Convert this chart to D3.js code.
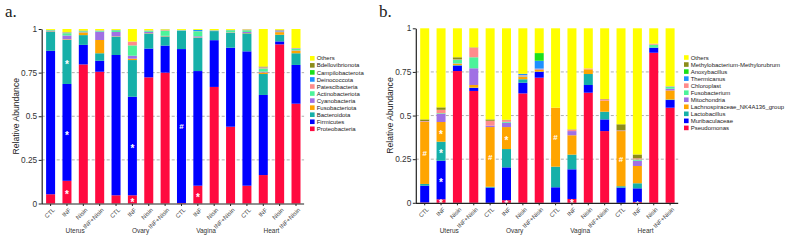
<!DOCTYPE html>
<html>
<head>
<meta charset="utf-8">
<script src="https://cdn.jsdelivr.net/npm/d3@7"></script>
<style>
  body { margin: 0; background: #fff; }
  svg { display: block; font-family: "Liberation Sans", Arial, sans-serif; }
</style>
</head>
<body>
<div id="chart"></div>
<script>
// ---- data ----
const tissues = ["Uterus", "Ovary", "Vagina", "Heart"];
const treatments = ["CTL", "INF", "Nisin", "INF+Nisin"];

// panel a: phylum level, stack order bottom -> top
const phyla = ["Proteobacteria", "Firmicutes", "Bacteroidota", "Fusobacteriota", "Cyanobacteria",
    "Actinobacteriota", "Patescibacteria", "Deinococcota", "Campilobacterota", "Bdellovibrionota", "Others"];
const phylaColors = ["#ff0a3f", "#0000ff", "#16b0a9", "#ffa500", "#a070e4",
    "#4cf39a", "#ff8c8c", "#1e90ff", "#1ae01a", "#8c8c1a", "#ffff00"];
// one row per phylum, 16 samples (Uterus CTL..INF+Nisin, Ovary.., Vagina.., Heart..)
const phylaValues = [
    [0.053, 0.130, 0.797, 0.755, 0.047, 0.047, 0.723, 0.750, 0.003, 0.102, 0.668, 0.440, 0.102, 0.163, 0.912, 0.572],
    [0.822, 0.555, 0.112, 0.063, 0.804, 0.565, 0.165, 0.155, 0.882, 0.657, 0.268, 0.453, 0.770, 0.459, 0.017, 0.222],
    [0.110, 0.253, 0.056, 0.043, 0.105, 0.210, 0.086, 0.052, 0.104, 0.191, 0.052, 0.084, 0.103, 0.120, 0.038, 0.067],
    [0.002, 0.003, 0.015, 0.076, 0.002, 0.008, 0.002, 0.002, 0.000, 0.002, 0.000, 0.002, 0.002, 0.009, 0.015, 0.015],
    [0.002, 0.022, 0.002, 0.048, 0.025, 0.017, 0.008, 0.002, 0.001, 0.006, 0.001, 0.002, 0.006, 0.005, 0.005, 0.002],
    [0.004, 0.013, 0.005, 0.004, 0.010, 0.059, 0.005, 0.030, 0.003, 0.029, 0.002, 0.012, 0.010, 0.018, 0.002, 0.009],
    [0.001, 0.004, 0.001, 0.002, 0.001, 0.021, 0.002, 0.004, 0.001, 0.001, 0.001, 0.001, 0.004, 0.006, 0.003, 0.003],
    [0.001, 0.001, 0.001, 0.001, 0.001, 0.001, 0.001, 0.001, 0.001, 0.007, 0.001, 0.001, 0.001, 0.001, 0.001, 0.001],
    [0.000, 0.001, 0.000, 0.000, 0.000, 0.000, 0.000, 0.000, 0.000, 0.000, 0.000, 0.000, 0.000, 0.000, 0.000, 0.000],
    [0.000, 0.000, 0.002, 0.000, 0.000, 0.000, 0.000, 0.001, 0.000, 0.000, 0.000, 0.000, 0.000, 0.004, 0.003, 0.000],
    [0.005, 0.018, 0.009, 0.008, 0.005, 0.072, 0.008, 0.003, 0.005, 0.005, 0.007, 0.005, 0.002, 0.215, 0.004, 0.109]
];
// significance marks: sample index, segment, symbol
const phylaMarks = [
    [1, "Proteobacteria", "*"], [1, "Firmicutes", "*"], [1, "Bacteroidota", "*"],
    [5, "Proteobacteria", "*"], [5, "Firmicutes", "*"],
    [8, "Firmicutes", "#"], [9, "Proteobacteria", "*"]
];

// panel b: genus level
const genera = ["Pseudomonas", "Muribaculaceae", "Lactobacillus", "Lachnospiraceae_NK4A136_group", "Mitochondria",
    "Fusobacterium", "Chloroplast", "Thermicanus", "Anoxybacillus", "Methylobacterium-Methylorubrum", "Others"];
const generaColors = ["#ff0a3f", "#0000ff", "#16b0a9", "#ffa500", "#a070e4",
    "#4cf39a", "#ff8c8c", "#1e90ff", "#1ae01a", "#8c8c1a", "#ffff00"];
const generaValues = [
    [0.002, 0.020, 0.755, 0.641, 0.000, 0.015, 0.627, 0.717, 0.002, 0.022, 0.631, 0.411, 0.000, 0.005, 0.860, 0.545],
    [0.096, 0.221, 0.031, 0.017, 0.087, 0.188, 0.061, 0.033, 0.087, 0.170, 0.044, 0.067, 0.087, 0.078, 0.029, 0.044],
    [0.010, 0.109, 0.003, 0.002, 0.005, 0.105, 0.020, 0.002, 0.118, 0.084, 0.063, 0.044, 0.008, 0.029, 0.000, 0.003],
    [0.355, 0.113, 0.008, 0.015, 0.342, 0.126, 0.015, 0.012, 0.338, 0.111, 0.027, 0.063, 0.316, 0.099, 0.000, 0.052],
    [0.002, 0.046, 0.002, 0.096, 0.008, 0.025, 0.002, 0.004, 0.000, 0.024, 0.000, 0.000, 0.002, 0.030, 0.000, 0.010],
    [0.000, 0.004, 0.021, 0.063, 0.000, 0.005, 0.003, 0.000, 0.000, 0.000, 0.000, 0.000, 0.000, 0.007, 0.017, 0.012],
    [0.003, 0.020, 0.002, 0.055, 0.028, 0.010, 0.004, 0.001, 0.000, 0.008, 0.005, 0.008, 0.002, 0.007, 0.006, 0.003],
    [0.000, 0.000, 0.000, 0.000, 0.000, 0.000, 0.007, 0.045, 0.000, 0.000, 0.000, 0.000, 0.000, 0.000, 0.000, 0.000],
    [0.000, 0.000, 0.000, 0.000, 0.000, 0.000, 0.000, 0.044, 0.000, 0.000, 0.000, 0.000, 0.000, 0.000, 0.000, 0.000],
    [0.010, 0.014, 0.012, 0.002, 0.008, 0.002, 0.000, 0.000, 0.000, 0.002, 0.000, 0.002, 0.035, 0.022, 0.000, 0.000],
    [0.522, 0.453, 0.166, 0.109, 0.522, 0.524, 0.261, 0.142, 0.455, 0.579, 0.230, 0.405, 0.550, 0.723, 0.088, 0.331]
];
const generaMarks = [
    [0, "Lachnospiraceae_NK4A136_group", "#"],
    [1, "Pseudomonas", "*"], [1, "Muribaculaceae", "*"], [1, "Lactobacillus", "*"], [1, "Lachnospiraceae_NK4A136_group", "*"],
    [4, "Lachnospiraceae_NK4A136_group", "#"],
    [5, "Pseudomonas", "*"], [5, "Lachnospiraceae_NK4A136_group", "*"],
    [8, "Lachnospiraceae_NK4A136_group", "#"], [9, "Pseudomonas", "*"],
    [12, "Lachnospiraceae_NK4A136_group", "#"], [13, "Pseudomonas", "*"]
];

const yTicks = [0, 0.25, 0.5, 0.75, 1];

// ---- drawing ----
const svg = d3.select("#chart").append("svg")
    .attr("width", 785)
    .attr("height", 240);

function drawPanel(cfg) {
    let samples = [];
    tissues.forEach(t => treatments.forEach(tr => samples.push(t + "|" + tr)));

    // rows for d3.stack
    let rows = samples.map((s, i) => {
        let r = {sample: s};
        cfg.keys.forEach((k, j) => r[k] = cfg.values[j][i]);
        return r;
    });
    let series = d3.stack().keys(cfg.keys)(rows);

    let x = d3.scaleBand()
        .domain(samples)
        .range([cfg.axisX + 0.8, cfg.axisX + 0.8 + 16 * 16.35])
        .paddingInner(0.45)
        .paddingOuter(0.22);

    let y = d3.scaleLinear()
        .domain([0, 1])
        .range([cfg.bottom, cfg.top]);

    let color = d3.scaleOrdinal().domain(cfg.keys).range(cfg.colors);

    let g = svg.append("g");
    let xEnd = x.range()[1];

    // dashed grid
    g.selectAll(".grid")
        .data([0.25, 0.5, 0.75])
        .enter().append("line")
        .attr("x1", cfg.axisX)
        .attr("x2", xEnd)
        .attr("y1", d => y(d))
        .attr("y2", d => y(d))
        .attr("stroke", "#9a9a9a")
        .attr("stroke-width", 0.8)
        .attr("stroke-dasharray", "3,2");

    // bars
    g.selectAll(".layer")
        .data(series)
        .enter().append("g")
        .attr("fill", d => color(d.key))
        .selectAll("rect")
        .data(d => d)
        .enter().append("rect")
        .attr("x", d => x(d.data.sample))
        .attr("width", x.bandwidth())
        .attr("y", d => y(d[1]))
        .attr("height", d => Math.max(0, y(d[0]) - y(d[1])));

    // marks (* and #) in the middle of a segment
    g.selectAll(".mark")
        .data(cfg.marks)
        .enter().append("text")
        .attr("x", d => x(samples[d[0]]) + x.bandwidth() / 2)
        .attr("y", d => {
            let s = series[cfg.keys.indexOf(d[1])][d[0]];
            return y((s[0] + s[1]) / 2);
        })
        .attr("dy", d => d[2] == "*" ? "0.62em" : "0.36em")
        .attr("text-anchor", "middle")
        .attr("fill", "#fff")
        .style("font-size", d => d[2] == "*" ? "10px" : "8px")
        .style("font-weight", "bold")
        .text(d => d[2]);

    // y axis
    let yAxis = d3.axisLeft(y)
        .tickValues(yTicks)
        .tickFormat(d => String(d))
        .tickSize(3)
        .tickSizeOuter(0);
    let ya = g.append("g")
        .attr("transform", `translate(${cfg.axisX},0)`)
        .call(yAxis);
    ya.select(".domain").attr("stroke", "#222").attr("stroke-width", 1.2);
    ya.selectAll(".tick line").attr("stroke", "#222");
    ya.selectAll("text")
        .attr("x", -4.5)
        .style("font-size", "8.3px")
        .attr("fill", "#333");

    // x axis
    let xAxis = d3.axisBottom(x)
        .tickSize(2)
        .tickSizeOuter(0)
        .tickFormat(d => d.split("|")[1]);
    let xa = g.append("g")
        .attr("transform", `translate(0,${cfg.bottom + 0.5})`)
        .call(xAxis);
    xa.select(".domain")
        .attr("d", `M${cfg.axisX},0H${xEnd}`)
        .attr("stroke", "#222")
        .attr("stroke-width", 1.2);
    xa.selectAll(".tick line").attr("stroke", "#222");
    xa.selectAll("text")
        .attr("x", 0)
        .attr("y", 0)
        .attr("dy", "0.35em")
        .attr("transform", "translate(3,5) rotate(-45)")
        .style("text-anchor", "end")
        .style("font-size", "6px")
        .attr("fill", "#444");

    // tissue labels
    g.selectAll(".tissue")
        .data(tissues)
        .enter().append("text")
        .attr("x", (d, i) => (x(samples[i * 4 + 1]) + x(samples[i * 4 + 2]) + x.bandwidth()) / 2)
        .attr("y", 233)
        .attr("text-anchor", "middle")
        .style("font-size", "6.5px")
        .attr("fill", "#333")
        .text(d => d);

    // y label
    g.append("text")
        .attr("transform", `translate(${cfg.axisX - 23},${(cfg.top + cfg.bottom) / 2}) rotate(-90)`)
        .attr("text-anchor", "middle")
        .style("font-size", "8.6px")
        .attr("fill", "#222")
        .text("Relative Abundance");

    // panel letter
    g.append("text")
        .attr("x", cfg.letterX)
        .attr("y", 17)
        .style("font-family", "'Liberation Serif', 'Times New Roman', serif")
        .style("font-size", "17px")
        .attr("fill", "#222")
        .text(cfg.letter);

    // legend (top row = last stack key)
    let legend = g.append("g")
        .attr("transform", `translate(${cfg.legendX},${cfg.legendY})`);
    let items = cfg.keys.slice().reverse();
    let li = legend.selectAll(".item")
        .data(items)
        .enter().append("g")
        .attr("transform", (d, i) => `translate(0,${i * cfg.legendStep})`);
    li.append("rect")
        .attr("x", 0)
        .attr("y", -2.3)
        .attr("width", 4.6)
        .attr("height", 4.6)
        .attr("fill", d => color(d));
    li.append("text")
        .attr("x", cfg.legendTextDx)
        .attr("dy", "0.35em")
        .style("font-size", "6px")
        .attr("fill", "#222")
        .text(d => d);
}

drawPanel({
    keys: phyla, values: phylaValues, colors: phylaColors, marks: phylaMarks,
    axisX: 41.7, top: 29, bottom: 203.5,
    letter: "a.", letterX: 5,
    legendX: 310, legendY: 58.3, legendStep: 7.05, legendTextDx: 6.7
});

drawPanel({
    keys: genera, values: generaValues, colors: generaColors, marks: generaMarks,
    axisX: 415.8, top: 28.3, bottom: 202.8,
    letter: "b.", letterX: 379,
    legendX: 684, legendY: 57.5, legendStep: 7.04, legendTextDx: 6.7
});
</script>
</body>
</html>
